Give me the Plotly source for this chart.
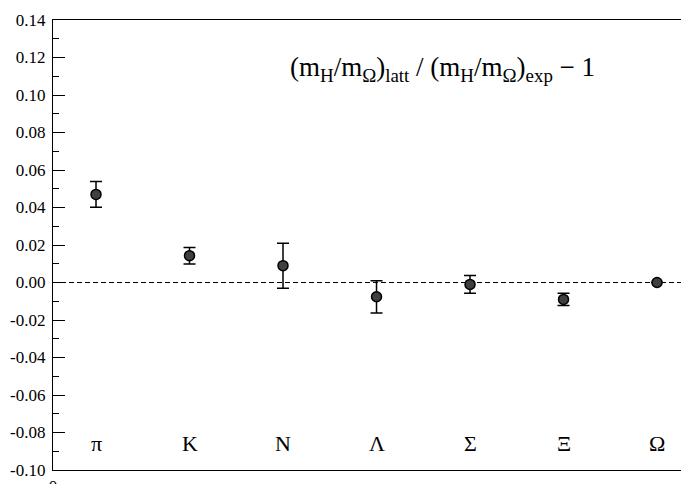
import plotly.graph_objects
import plotly.io

plotly.io.templates.default = 'none'

# hadron labels and lattice / experiment mass ratio deviations
hadrons = ['π', 'K', 'N', 'Λ', 'Σ', 'Ξ', 'Ω']
positions = [0.5, 1.5, 2.5, 3.5, 4.5, 5.5, 6.5]
deviations = [0.047, 0.0143, 0.009, -0.0076, -0.001, -0.009, 0.0]
errors = [0.0069, 0.0044, 0.012, 0.0086, 0.0047, 0.0033, 0.0]

y_ticks = [-0.10, -0.08, -0.06, -0.04, -0.02, 0.00, 0.02, 0.04, 0.06, 0.08, 0.10, 0.12, 0.14]
y_tick_labels = ['-0.10', '-0.08', '-0.06', '-0.04', '-0.02', '0.00', '0.02', '0.04', '0.06',
                 '0.08', '0.10', '0.12', '0.14']
x_range = [0.04, 6.842]
y_range = [-0.10, 0.14]
label_level = -0.086

serif = 'Liberation Serif, Times New Roman, serif'


def plot_deviations(figure):
    figure.add_trace(plotly.graph_objects.Scatter(x=positions,
                                                  y=deviations,
                                                  mode='markers',
                                                  marker=dict(size=10, color='#404040',
                                                              line=dict(color='black', width=1.5)),
                                                  error_y=dict(type='data', array=errors, visible=True,
                                                               color='black', thickness=1.5, width=6),
                                                  showlegend=False,
                                                  )
                     )
    # dummy trace so the right-hand tick axis gets drawn
    figure.add_trace(plotly.graph_objects.Scatter(x=[positions[0]], y=[deviations[0]], yaxis='y2',
                                                  mode='markers', marker=dict(opacity=0),
                                                  showlegend=False, hoverinfo='skip'))
    figure.add_shape(type='line', xref='x', yref='y', x0=x_range[0], x1=x_range[1], y0=0, y1=0,
                     line=dict(color='black', width=1, dash='5px,3px'), opacity=1, layer='below')
    for name, x in zip(hadrons, positions):
        figure.add_annotation(x=x, y=label_level, text=name, showarrow=False,
                              font=dict(family=serif, size=22, color='black'),
                              xanchor='center', yanchor='middle')
    figure.add_annotation(xref='paper', yref='paper', x=0.612, y=0.89,
                          text='(m<sub>H</sub>/m<sub>Ω</sub>)<sub>latt</sub> / '
                               '(m<sub>H</sub>/m<sub>Ω</sub>)<sub>exp</sub> − 1',
                          showarrow=False, font=dict(family=serif, size=27, color='black'),
                          xanchor='center', yanchor='middle')


def style_axes(figure):
    # the page body adds an 8px offset, so the figure is sized to the remaining window
    figure.update_layout(width=681, height=476,
                         margin=dict(l=45, r=0, t=12, b=14, autoexpand=False),
                         paper_bgcolor='white', plot_bgcolor='white',
                         font=dict(family=serif, size=17, color='black'),
                         xaxis=dict(range=x_range, showline=True, linecolor='black', linewidth=1.2,
                                    mirror=True, ticks='', tickvals=[x_range[0]], ticktext=['0'],
                                    tickfont=dict(family=serif, size=17, color='black'),
                                    showgrid=False, zeroline=False, automargin=False),
                         yaxis=dict(range=y_range, showline=True, linecolor='black', linewidth=1.2,
                                    tickvals=y_ticks, ticktext=y_tick_labels, ticks='inside', ticklen=12,
                                    tickcolor='black', tickwidth=1, ticklabelstandoff=3,
                                    tickfont=dict(family=serif, size=17, color='black'),
                                    minor=dict(ticks='inside', ticklen=6, dtick=0.01, tickcolor='black',
                                               tickwidth=1),
                                    showgrid=False, zeroline=False, automargin=False),
                         yaxis2=dict(range=y_range, overlaying='y', side='right', showline=False,
                                     tickvals=y_ticks, showticklabels=False, ticks='inside', ticklen=6,
                                     tickcolor='black', tickwidth=1, showgrid=False, zeroline=False,
                                     automargin=False),
                         )


if __name__ == '__main__':
    fig = plotly.graph_objects.Figure()
    plot_deviations(fig)
    style_axes(fig)
    fig.write_html('out.html')
